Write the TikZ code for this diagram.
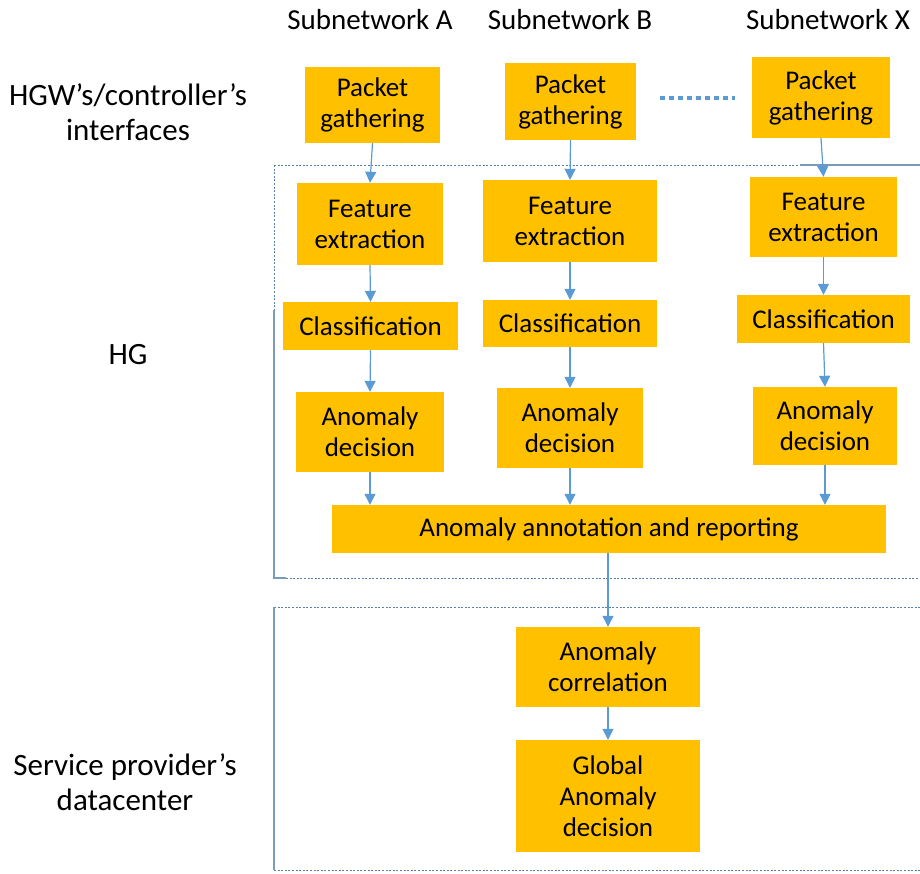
\documentclass[tikz,border=0pt]{standalone}
\usepackage{fontspec}
\setmainfont{Carlito}
\usetikzlibrary{arrows.meta}
\definecolor{boxfill}{HTML}{FFC000}
\definecolor{flow}{HTML}{5B9BD5}
\definecolor{frameline}{HTML}{5A7FA8}
\begin{document}
\begin{tikzpicture}[x=1pt,y=-1pt,
  stage/.style={fill=boxfill, draw=none, inner sep=0pt, align=center,
    font=\fontsize{27}{31}\selectfont},
  head/.style={align=center, inner sep=0pt, font=\fontsize{29}{34}\selectfont},
  lbl/.style={align=center, inner sep=0pt, font=\fontsize{31}{35}\selectfont},
  arr/.style={draw=flow, line width=1.2pt, -{Triangle[width=11pt,length=11pt]}},
  dotframe/.style={draw=frameline, line width=0.9pt, dash pattern=on 2pt off 1.6pt},
  solidframe/.style={draw=frameline!80, line width=1.2pt}]
\useasboundingbox (0,0) rectangle (920,873);

% column headings and row labels
\node[head] (hA) at (370,20) {Subnetwork A};
\node[head] (hB) at (570,20) {Subnetwork B};
\node[head] (hX) at (828,20) {Subnetwork X};
\node[lbl] (lIf) at (128,112) {HGW’s/controller’s\\interfaces};
\node[lbl] (lHG) at (128,355) {HG};
\node[lbl] (lDC) at (125,782) {Service provider’s\\datacenter};

% frames around the HG and datacenter stages
\draw[dotframe] (274,165) -- (800,165);
\draw[solidframe] (800,165) -- (920,165);
\draw[dotframe] (274,165) -- (274,310);
\draw[solidframe] (274,310) -- (274,578) -- (286,578);
\draw[dotframe] (286,578) -- (920,578);
\draw[dotframe] (274,607) -- (920,607);
\draw[solidframe] (274,607) -- (274,870);
\draw[dotframe] (274,870) -- (920,870);

% subnetwork A
\node[stage, minimum width=135pt, minimum height=76pt] (pA) at (372.5,105) {Packet\\gathering};
\node[stage, minimum width=146pt, minimum height=82pt] (fA) at (370,224) {Feature\\extraction};
\node[stage, minimum width=175pt, minimum height=48pt] (cA) at (370.5,326) {Classification};
\node[stage, minimum width=148pt, minimum height=80pt] (dA) at (370,432) {Anomaly\\decision};

% subnetwork B
\node[stage, minimum width=131pt, minimum height=77pt] (pB) at (570.5,101.5) {Packet\\gathering};
\node[stage, minimum width=174pt, minimum height=82pt] (fB) at (570,221) {Feature\\extraction};
\node[stage, minimum width=174pt, minimum height=47pt] (cB) at (570,323.5) {Classification};
\node[stage, minimum width=146pt, minimum height=80pt] (dB) at (570,428) {Anomaly\\decision};

% subnetwork X
\node[stage, minimum width=138pt, minimum height=81pt] (pX) at (821,97.5) {Packet\\gathering};
\node[stage, minimum width=147pt, minimum height=80pt] (fX) at (823.5,217) {Feature\\extraction};
\node[stage, minimum width=173pt, minimum height=48pt] (cX) at (823.5,319) {Classification};
\node[stage, minimum width=144pt, minimum height=78pt] (dX) at (825,426) {Anomaly\\decision};

% shared stages
\node[stage, minimum width=554pt, minimum height=48pt] (ann) at (609,529) {Anomaly annotation and reporting};
\node[stage, minimum width=184pt, minimum height=80pt] (corr) at (608,667) {Anomaly\\correlation};
\node[stage, minimum width=184pt, minimum height=112pt] (glob) at (608,796) {Global\\Anomaly\\decision};

% more subnetworks in between
\coordinate (gapL) at (660,98);
\coordinate (gapR) at (735,98);
\draw[draw=flow, line width=4pt, dash pattern=on 5pt off 4pt] (gapL) -- (gapR);

% flow within each subnetwork
\foreach \c in {A,B,X}{
  \draw[arr] (p\c.south) -- (f\c.north);
  \draw[arr] (f\c.south) -- (c\c.north);
  \draw[arr] (c\c.south) -- (d\c.north);
  \draw[arr] (d\c.south) -- (d\c.south |- ann.north);
}
\draw[arr] (ann.south -| corr.north) -- (corr.north);
\draw[arr] (corr.south) -- (glob.north);
\end{tikzpicture}
\end{document}
